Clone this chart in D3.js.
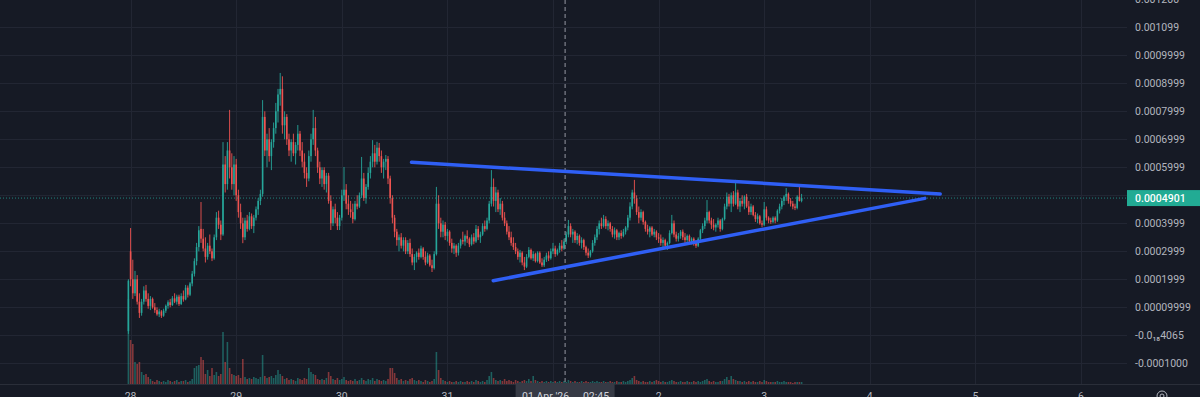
<!DOCTYPE html>
<html><head><meta charset="utf-8">
<script src="https://cdn.jsdelivr.net/npm/d3@7"></script>
<style>html,body{margin:0;padding:0;background:#161a25;overflow:hidden}svg{display:block}</style>
</head><body><svg id="c" width="1200" height="397"></svg>
<script>
// Prices are stored in micro-units (1 = 0.000001)
const UNIT = 1e-6;
const startTime = "2026-03-27T23:30:00Z";
const stepMinutes = 30;

const opens = [
15,300,200,150,200,120,80,120,160,130,105,130,100,90,75,85,70,88,105,118,108,132,120,138,112,140,128,170,145,185,
220,265,315,380,345,310,280,320,300,275,350,420,395,360,610,540,660,600,540,610,500,440,400,350,410,380,425,390,420,450,
480,505,780,660,700,640,690,740,800,860,880,750,780,700,660,690,650,680,720,660,620,580,560,640,700,740,660,600,560,590,
540,570,480,400,450,420,390,420,500,520,470,450,440,415,470,460,500,560,490,530,580,620,650,620,670,640,600,620,630,560,
490,420,370,340,350,320,340,300,330,290,260,280,295,280,310,280,260,285,250,240,290,470,400,370,395,355,370,330,310,320,
295,320,340,335,355,345,325,350,335,380,350,360,390,380,410,470,530,480,510,450,470,420,400,370,350,330,315,300,280,295,
260,245,280,305,275,290,265,295,260,250,270,285,275,300,310,290,305,320,310,335,360,390,360,370,340,355,330,340,315,295,
285,300,330,350,380,400,390,415,390,400,380,360,375,350,365,355,370,385,420,460,510,490,440,420,440,405,380,370,385,360,
370,350,345,330,340,320,330,365,400,360,345,355,370,350,340,355,335,345,330,320,345,375,390,410,440,410,395,385,395,410,
380,415,460,495,470,500,470,510,460,480,470,495,460,440,460,430,415,425,400,395,450,420,410,405,420,410,445,460,480,495,
505,480,470,460,455,495,480];
const highs = [
200,383,270,230,215,150,130,175,180,150,140,135,115,100,95,90,95,110,125,130,140,150,145,145,150,160,180,178,190,230,
275,330,390,476,380,350,330,360,310,360,440,445,410,690,640,690,805,650,640,630,520,470,420,420,430,440,435,430,460,490,
520,840,800,720,740,700,760,830,880,937,925,800,790,720,700,720,690,751,730,690,650,600,660,720,805,780,670,620,600,600,
580,580,500,460,470,440,430,520,601,540,500,480,470,480,500,510,637,580,540,600,640,697,680,691,687,660,630,644,640,570,
500,430,380,360,365,350,350,340,345,310,290,300,310,320,315,300,295,290,270,300,530,500,420,410,405,380,375,345,330,325,
330,345,370,360,375,350,360,365,394,390,370,400,410,420,480,590,560,530,520,490,480,440,410,390,370,350,330,310,305,300,
280,290,315,310,300,295,300,300,275,280,295,300,310,330,320,310,330,340,345,370,412,400,380,375,365,360,350,345,320,310,
305,340,360,390,410,420,430,425,410,405,390,385,380,370,375,380,390,430,475,520,555,500,460,450,445,410,395,390,390,380,
375,365,360,350,345,335,375,430,410,370,365,376,378,365,360,360,350,350,340,350,380,400,420,483,445,420,415,400,420,415,
420,470,510,505,510,515,555,520,490,500,500,505,480,470,465,440,435,430,410,476,460,425,420,425,425,450,470,490,500,526,
510,490,480,470,500,537,505];
const lows = [
5,175,130,140,110,62,70,110,120,95,90,95,80,70,65,62,66,80,95,100,105,115,110,105,108,120,125,135,140,175,
210,250,300,330,300,260,270,290,265,270,340,380,340,355,510,520,560,520,500,480,420,380,329,340,370,375,380,365,410,430,
465,495,640,600,620,590,670,720,760,820,720,700,680,640,620,640,610,660,640,600,560,530,550,620,680,640,580,540,530,520,
510,470,376,390,400,376,376,410,480,450,430,420,400,410,450,455,490,480,470,520,560,600,600,610,620,580,560,590,540,470,
400,350,320,300,310,300,290,290,280,250,233,260,270,275,270,250,255,245,226,235,285,380,350,350,340,335,320,295,290,280,
285,310,325,320,330,315,320,325,330,340,330,355,370,375,400,460,460,440,440,430,410,390,360,340,320,305,290,270,260,250,
233,240,275,270,265,260,260,255,244,244,262,265,270,290,280,285,295,300,305,325,350,350,330,330,325,320,310,305,285,276,
278,295,320,340,360,380,385,380,375,370,350,345,340,340,345,350,360,375,410,450,470,430,400,410,395,370,360,350,355,350,
340,330,320,315,310,305,325,360,350,335,335,345,340,330,330,330,325,320,312,315,340,365,380,400,400,380,375,370,385,370,
375,410,450,460,440,460,465,450,440,460,450,455,430,430,425,405,400,395,387,390,410,400,398,400,400,405,435,450,465,480,
470,460,450,447,450,478,475];
const closes = [
195,200,150,200,120,80,120,160,130,105,130,100,90,75,85,70,88,105,118,108,132,120,138,112,140,128,170,145,185,220,
265,315,375,345,310,280,320,300,275,350,420,395,360,610,540,660,600,540,610,500,440,400,350,410,380,425,390,420,450,480,
505,780,660,700,640,690,740,800,860,880,750,780,700,660,690,650,680,720,660,620,580,560,640,700,740,660,600,560,590,540,
570,480,400,450,420,390,420,500,520,470,450,440,415,470,460,500,560,490,530,580,620,650,620,670,640,600,620,630,560,490,
420,370,340,350,320,340,300,330,290,260,280,295,280,310,280,260,285,250,240,290,470,400,370,395,355,370,330,310,320,295,
320,340,335,355,345,325,350,335,380,350,360,390,380,410,470,530,480,510,450,470,420,400,370,350,330,315,300,280,295,260,
245,280,305,275,290,265,295,260,250,270,285,275,300,310,290,305,320,310,335,360,390,360,370,340,355,330,340,315,295,285,
300,330,350,380,400,390,415,390,400,380,360,375,350,365,355,370,385,420,460,510,490,440,420,440,405,380,370,385,360,370,
350,345,330,340,320,330,365,400,360,345,355,370,350,340,355,335,345,330,320,345,375,390,410,440,410,395,385,395,410,380,
415,460,495,470,500,470,510,460,480,470,495,460,440,460,430,415,425,400,395,450,420,410,405,420,410,445,460,480,495,505,
480,470,460,455,495,480,490.1];
const volumes = [
85,44,40,22,20,22,12,9,10,7,5,3,2,4,3,2,3,2,4,3,2,3,4,2,3,3,4,2,3,5,
16,18,19,27,24,10,14,8,16,9,12,8,10,52,22,42,16,10,9,8,9,6,25,7,5,6,5,7,6,5,
7,29,8,6,7,8,6,9,14,10,8,5,6,4,5,4,3,6,5,4,6,5,16,12,10,9,5,4,5,4,
6,12,8,5,4,6,4,5,7,4,3,4,3,5,3,4,6,4,3,5,4,6,3,5,4,3,4,3,5,16,
16,11,6,4,5,3,4,3,5,6,4,3,4,3,2,4,3,2,3,5,32,14,6,4,3,2,3,2,2,3,
2,3,2,2,3,2,3,2,4,3,2,3,2,4,8,12,6,4,3,4,3,5,3,4,3,2,4,3,2,3,
4,3,5,3,8,4,3,2,3,2,3,2,3,2,3,2,3,2,3,2,4,3,2,3,2,2,3,2,3,2,
2,3,2,3,2,2,3,2,2,3,2,2,3,2,2,3,2,3,4,6,8,4,3,2,3,2,2,3,2,3,
4,3,2,3,2,2,3,4,3,2,2,3,2,2,3,2,2,3,2,3,2,3,4,5,3,2,3,2,2,3,
3,5,7,4,8,5,4,3,3,2,3,2,3,2,3,2,2,3,2,4,3,2,2,2,2,3,2,2,3,2,
2,2,1,2,2,2,2];

const priceTicks = [1200,1100,1000,900,800,700,600,500,400,300,200,100,0,-100];
const priceTickLabels = ["0.001200","0.001099","0.0009999","0.0008999","0.0007999","0.0006999","0.0005999","",
  "0.0003999","0.0002999","0.0001999","0.00009999","-0.0\u2081\u20884065","-0.0001000"];
const dayTicks = ["2026-03-28","2026-03-29","2026-03-30","2026-03-31","2026-04-01","2026-04-02","2026-04-03","2026-04-04","2026-04-05","2026-04-06"];
const dayLabels = ["28","29","30","31","","2","3","4","5","6"];
const lastPrice = 490.1;
const lastPriceLabel = "0.0004901";
const crosshairTime = "2026-04-01T02:45:00Z";
const crosshairLabel = ["01 Apr '26", "02:45"];
const upperLine = [{t:"2026-03-30T15:50:00Z", v:618},{t:"2026-04-04T16:00:00Z", v:505}];
const lowerLine = [{t:"2026-03-31T10:25:00Z", v:195},{t:"2026-04-04T12:30:00Z", v:489}];

const W = 1200, H = 397;
const plotRight = 1127, axisY = 384;
const UP = "#26a69a", DOWN = "#ef5350";
const svg = d3.select("#c");
svg.append("rect").attr("width", W).attr("height", H).attr("fill", "#161a25");

const x = d3.scaleUtc().domain([new Date("2026-03-28T00:00:00Z"), new Date("2026-04-06T00:00:00Z")]).range([130.6, 1081]);
const y = d3.scaleLinear().domain([-100, 1200]).range([363.3, -0.7]);
const yv = d3.scaleLinear().domain([0, 100]).range([axisY, axisY - 100]);

const t0 = new Date(startTime).getTime();
const candles = closes.map((c, i) => ({
  t: new Date(t0 + i * stepMinutes * 60000), o: opens[i], h: highs[i], l: lows[i], c: c, v: volumes[i]
}));

// grid
const grid = svg.append("g").attr("stroke", "#222633").attr("stroke-width", 1);
priceTicks.forEach(v => grid.append("line").attr("x1", 0).attr("x2", plotRight)
  .attr("y1", Math.round(y(v)) + 0.5).attr("y2", Math.round(y(v)) + 0.5));
dayTicks.forEach(d => { const xx = Math.round(x(new Date(d + "T00:00:00Z"))) + 0.5;
  grid.append("line").attr("x1", xx).attr("x2", xx).attr("y1", 0).attr("y2", axisY); });

// volume
svg.append("g").selectAll("rect").data(candles).join("rect")
  .attr("x", d => x(d.t) - 0.8).attr("width", 1.6)
  .attr("y", d => yv(d.v)).attr("height", d => axisY - yv(d.v))
  .attr("fill", d => d.c >= d.o ? UP : DOWN).attr("fill-opacity", 0.5);

// candles
const cg = svg.append("g");
cg.selectAll("line").data(candles).join("line")
  .attr("x1", d => x(d.t)).attr("x2", d => x(d.t))
  .attr("y1", d => y(d.h)).attr("y2", d => y(d.l))
  .attr("stroke", d => d.c >= d.o ? UP : DOWN).attr("stroke-width", 0.9);
cg.selectAll("rect").data(candles).join("rect")
  .attr("x", d => x(d.t) - 0.8).attr("width", 1.6)
  .attr("y", d => y(Math.max(d.o, d.c)))
  .attr("height", d => Math.max(1, Math.abs(y(d.o) - y(d.c))))
  .attr("fill", d => d.c >= d.o ? UP : DOWN);

// last price dotted line
svg.append("line").attr("x1", 0).attr("x2", plotRight)
  .attr("y1", y(lastPrice)).attr("y2", y(lastPrice))
  .attr("stroke", "#26a69a").attr("stroke-opacity", 0.75).attr("stroke-dasharray", "1 2");

// crosshair
const cx = x(new Date(crosshairTime));
svg.append("line").attr("x1", cx).attr("x2", cx).attr("y1", 0).attr("y2", axisY)
  .attr("stroke", "#9598a1").attr("stroke-dasharray", "4 3");

// trend lines
const line = d3.line().x(d => x(new Date(d.t))).y(d => y(d.v));
[upperLine, lowerLine].forEach(l => svg.append("path").attr("d", line(l))
  .attr("fill", "none").attr("stroke", "#2f5ff5").attr("stroke-width", 3.5).attr("stroke-linecap", "round"));

// axes line
svg.append("line").attr("x1", 0).attr("x2", W).attr("y1", axisY + 0.5).attr("y2", axisY + 0.5).attr("stroke", "#2a2e39");

// price labels
const font = "Roboto, 'Liberation Sans', sans-serif";
svg.append("g").selectAll("text").data(priceTicks.map((v, i) => ({v, s: priceTickLabels[i]})).filter(d => d.s))
  .join("text").attr("x", 1135).attr("y", d => y(d.v) + 3.8)
  .attr("fill", "#b2b5be").attr("font-family", font).attr("font-size", 10.5).text(d => d.s);

// last price label
svg.append("rect").attr("x", 1127).attr("y", y(lastPrice) - 8).attr("width", 73).attr("height", 16).attr("fill", "#22ab94");
svg.append("text").attr("x", 1135).attr("y", y(lastPrice) + 3.8).attr("fill", "#ffffff")
  .attr("font-family", font).attr("font-size", 10.5).attr("font-weight", 500).text(lastPriceLabel);

// time labels
svg.append("g").selectAll("text").data(dayTicks.map((d, i) => ({d, s: dayLabels[i]})).filter(d => d.s))
  .join("text").attr("x", d => x(new Date(d.d + "T00:00:00Z"))).attr("y", 400)
  .attr("text-anchor", "middle").attr("fill", "#b2b5be").attr("font-family", font).attr("font-size", 10.5).text(d => d.s);

// crosshair time label
svg.append("rect").attr("x", cx - 49.5).attr("y", 383).attr("width", 99).attr("height", 16).attr("fill", "#363a45");
svg.append("text").attr("x", cx - 43).attr("y", 400).attr("fill", "#d1d4dc")
  .attr("font-family", font).attr("font-size", 10.5).text(crosshairLabel[0]);
svg.append("text").attr("x", cx + 44).attr("y", 400).attr("text-anchor", "end").attr("fill", "#d1d4dc")
  .attr("font-family", font).attr("font-size", 10.5).text(crosshairLabel[1]);

// settings icon
svg.append("circle").attr("cx", 1162).attr("cy", 396).attr("r", 5).attr("fill", "none").attr("stroke", "#b2b5be").attr("stroke-width", 1);
svg.append("circle").attr("cx", 1162).attr("cy", 396).attr("r", 2).attr("fill", "none").attr("stroke", "#b2b5be").attr("stroke-width", 1);
</script></body></html>
